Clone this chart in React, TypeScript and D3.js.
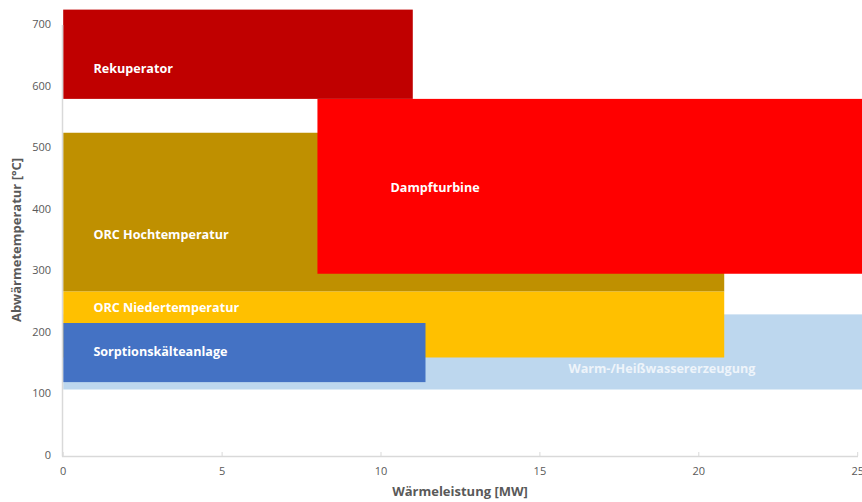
import React, { useEffect } from "react";
import * as d3 from "d3";

const names = ["Warm-/Heißwassererzeugung", "ORC Hochtemperatur", "ORC Niedertemperatur", "Sorptionskälteanlage", "Dampfturbine", "Rekuperator"];
const xStart = [0, 0, 0, 0, 8, 0];
const xEnd = [25.2, 20.8, 20.8, 11.4, 25.2, 11];
const tLow = [108, 267, 160, 120, 296, 580];
const tHigh = [230, 525, 267, 216, 580, 725];
const colors = ["#BDD7EE", "#BF9000", "#FFC000", "#4472C4", "#FF0000", "#C00000"];
// label anchor (data units)
const labelX = [15.9, 0.95, 0.95, 0.95, 10.3, 0.95];
const labelY = [140, 358, 240, 168, 435, 627];

const xTicks = [0, 5, 10, 15, 20, 25];
const yTicks = [0, 100, 200, 300, 400, 500, 600, 700];

const W = 862, H = 502;

export default function App() {
  useEffect(() => {
    document.body.style.margin = "0";
  }, []);
  const x = d3.scaleLinear().domain([0, 25]).range([63.2, 857.7]);
  const y = d3.scaleLinear().domain([0, 700]).range([456, 25]);
  const font = "Open Sans, Liberation Sans, sans-serif";
  return (
    <svg width={W} height={H} style={{ display: "block", fontFamily: font }}>
      <rect width={W} height={H} fill="#fff" />
      {names.map((n, i) => (
        <rect key={n} x={x(xStart[i])} y={y(tHigh[i])} width={x(xEnd[i]) - x(xStart[i])} height={y(tLow[i]) - y(tHigh[i])} fill={colors[i]} />
      ))}
      {names.map((n, i) => (
        <text key={"l" + n} x={x(labelX[i])} y={y(labelY[i])} fill={i === 0 ? "#EEF4FA" : "#fff"} fontWeight="bold" fontSize={12.6} dominantBaseline="middle">{n}</text>
      ))}
      <line x1={62.5} x2={62.5} y1={25} y2={456.5} stroke="#D9D9D9" strokeWidth={1.5} />
      <line x1={62} x2={858} y1={456.5} y2={456.5} stroke="#D9D9D9" strokeWidth={1.5} />
      {xTicks.map((t) => (
        <g key={"xt" + t}>
          <line x1={x(t)} x2={x(t)} y1={452} y2={456} stroke="#D9D9D9" />
          <text x={x(t)} y={472} fontSize={11} fill="#595959" textAnchor="middle" dominantBaseline="middle">{t}</text>
        </g>
      ))}
      {yTicks.map((t) => (
        <text key={"yt" + t} x={51} y={y(t)} fontSize={11} fill="#595959" textAnchor="end" dominantBaseline="middle">{t}</text>
      ))}
      <text x={460} y={493} fontSize={13} fontWeight="bold" fill="#595959" textAnchor="middle" dominantBaseline="middle">Wärmeleistung [MW]</text>
      <text transform="translate(18,240) rotate(-90)" fontSize={13} fontWeight="bold" fill="#595959" textAnchor="middle" dominantBaseline="middle">Abwärmetemperatur [°C]</text>
    </svg>
  );
}
